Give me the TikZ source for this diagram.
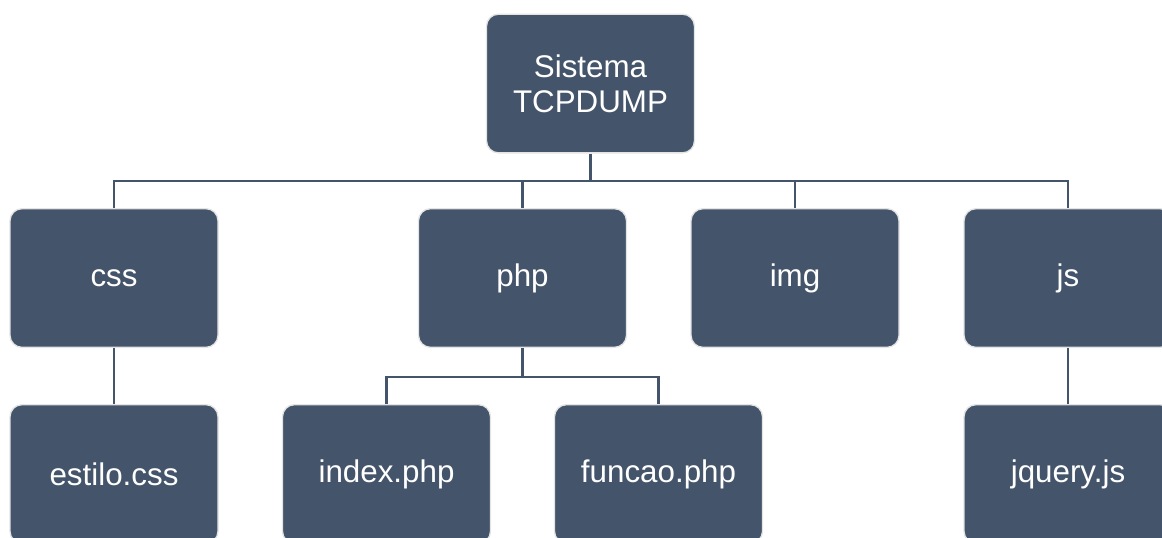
\documentclass[tikz,border=0pt]{standalone}
\usepackage{fontspec}
\setmainfont{Liberation Sans}
\definecolor{boxfill}{HTML}{44546A}
\definecolor{boxedge}{HTML}{E4E4E4}
\tikzset{every picture/.style={line width=0.75pt}}
\tikzset{
  folder/.style={draw=boxedge, line width=1pt, fill=boxfill, rounded corners=9pt,
    minimum width=156pt, minimum height=104pt, text=white, align=center,
    font=\fontsize{23.5}{26}\selectfont},
  tie/.style={draw=boxfill, line width=1.7pt}
}
\begin{document}
\begin{tikzpicture}[x=0.75pt,y=0.75pt,yscale=-1,xscale=1]
	\useasboundingbox (0,0) rectangle (1162,537);
	\clip (0,0) rectangle (1162,537);

	% Root
	\node[folder] (sistema) at (590.5,83.5) {Sistema\\TCPDUMP};
	% Folders
	\node[folder] (css) at (114,278) {css};
	\node[folder] (php) at (522.5,278) {php};
	\node[folder] (img) at (795,278) {img};
	\node[folder] (js) at (1068,278) {js};
	% Files
	\node[folder] (estilo) at (114,474) {estilo.css};
	\node[folder] (index) at (386.5,474) {index.php};
	\node[folder] (funcao) at (658.5,474) {funcao.php};
	\node[folder] (jquery) at (1068,474) {jquery.js};

	% Bus lines
	\coordinate (bus) at (590.5,181);
	\coordinate (phpbus) at (522.5,377);

	\draw[tie] (sistema.south) -- (bus);
	\draw[tie] (bus) -| (css.north);
	\draw[tie] (bus) -| (php.north);
	\draw[tie] (bus) -| (img.north);
	\draw[tie] (bus) -| (js.north);

	\draw[tie] (css.south) -- (estilo.north);
	\draw[tie] (php.south) -- (phpbus);
	\draw[tie] (phpbus) -| (index.north);
	\draw[tie] (phpbus) -| (funcao.north);
	\draw[tie] (js.south) -- (jquery.north);

\end{tikzpicture}
\end{document}
